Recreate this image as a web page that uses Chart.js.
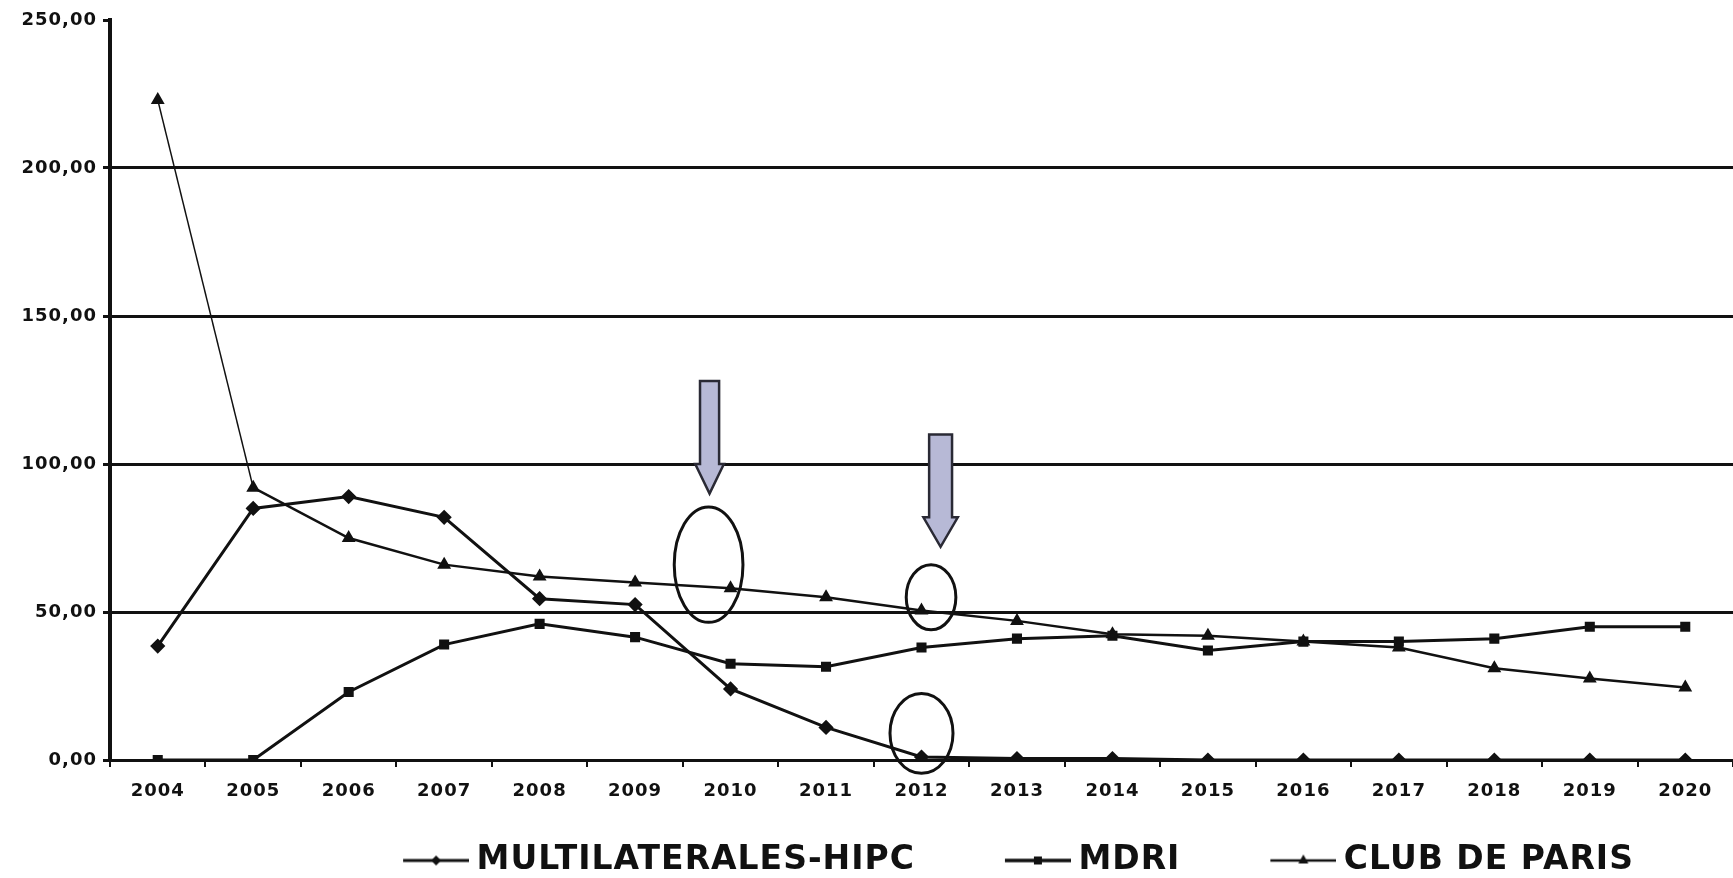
<!DOCTYPE html>
<html>
<head>
<meta charset="utf-8">
<title>Servicio de la deuda</title>
<script src="https://cdn.jsdelivr.net/npm/chart.js@4.4.1/dist/chart.umd.min.js"></script>
<style>
    html, body { margin: 0; padding: 0; background: #fff; }
    #contenedor { width: 1733px; height: 878px; position: relative; }
</style>
</head>
<body>
<div id="contenedor"><canvas id="grafico-deuda"></canvas></div>
<script>
// datos
var anios = ['2004','2005','2006','2007','2008','2009','2010','2011','2012','2013','2014','2015','2016','2017','2018','2019','2020'];
var hipc = [38.5, 85, 89, 82, 54.5, 52.5, 24, 11, 1, 0.5, 0.5, 0, 0, 0, 0, 0, 0];
var mdri = [0, 0, 23, 39, 46, 41.5, 32.5, 31.5, 38, 41, 42, 37, 40, 40, 41, 45, 45];
var clubParis = [223, 92, 75, 66, 62, 60, 58, 55, 50.5, 47, 42.5, 42, 40, 38, 31, 27.5, 24.5];
var nombres = ['MULTILATERALES-HIPC', 'MDRI', 'CLUB DE PARIS'];
var yTicks = [0, 50, 100, 150, 200, 250];

// marcas a mano sobre el grafico (x = indice de anio, y = valor)
var circulos = [
    {x: 5.77, y: 66, rx: 0.36, ry: 19.5},
    {x: 8.1, y: 55, rx: 0.26, ry: 11},
    {x: 8.0, y: 9, rx: 0.33, ry: 13.5}
];
var flechas = [
    {x: 5.78, arriba: 128, cabeza: 100, punta: 90, ancho: 0.1, anchoCabeza: 0.15},
    {x: 8.2, arriba: 110, cabeza: 82, punta: 72, ancho: 0.12, anchoCabeza: 0.18}
];

Chart.defaults.font.family = "'DejaVu Sans', sans-serif";
Chart.defaults.font.weight = 'bold';
Chart.defaults.color = '#111';

function icono(tipo, grosor){
    var c = document.createElement('canvas');
    c.width = 155; c.height = 18;
    var g = c.getContext('2d');
    g.strokeStyle = '#111';
    g.fillStyle = '#111';
    g.lineWidth = grosor;
    g.beginPath(); g.moveTo(89, 9); g.lineTo(155, 9); g.stroke();
    var cx = 122, cy = 9;
    g.beginPath();
    if (tipo == 'rombo'){
        g.moveTo(cx, cy - 5); g.lineTo(cx + 5, cy); g.lineTo(cx, cy + 5); g.lineTo(cx - 5, cy);
    } else if (tipo == 'cuadro'){
        g.rect(cx - 4, cy - 4, 8, 8);
    } else {
        g.moveTo(cx, cy - 6); g.lineTo(cx + 5, cy + 3); g.lineTo(cx - 5, cy + 3);
    }
    g.closePath(); g.fill();
    return c;
}
var iconos = [icono('rombo', 3), icono('cuadro', 3.5), icono('triangulo', 2.5)];

var ajustes = {
    id: 'ajustes',
    beforeUpdate: function(chart){ chart.ctx.letterSpacing = '1px'; },
    beforeDraw: function(chart){ chart.ctx.letterSpacing = '1px'; },
    afterLayout: function(chart){
        var l = chart.legend;
        l.left += 112; l.right += 112;
        l.top += 9; l.bottom += 9;
    },
    afterDatasetsDraw: function(chart){
        var ctx = chart.ctx, x = chart.scales.x, y = chart.scales.y;
        ctx.save();
        ctx.strokeStyle = '#111';
        ctx.lineWidth = 3;
        circulos.forEach(function(c){
            var cx = x.getPixelForValue(c.x), cy = y.getPixelForValue(c.y);
            var rx = x.getPixelForValue(c.x + c.rx) - cx;
            var ry = y.getPixelForValue(c.y - c.ry) - cy;
            ctx.beginPath();
            ctx.ellipse(cx, cy, rx, ry, 0, 0, Math.PI * 2);
            ctx.stroke();
        });
        ctx.fillStyle = '#b7b9d6';
        ctx.strokeStyle = '#2a2a35';
        ctx.lineWidth = 2.5;
        flechas.forEach(function(f){
            var xm = x.getPixelForValue(f.x);
            var a = x.getPixelForValue(f.x + f.ancho) - xm;
            var b = x.getPixelForValue(f.x + f.anchoCabeza) - xm;
            var y1 = y.getPixelForValue(f.arriba), y2 = y.getPixelForValue(f.cabeza), y3 = y.getPixelForValue(f.punta);
            ctx.beginPath();
            ctx.moveTo(xm - a, y1); ctx.lineTo(xm + a, y1); ctx.lineTo(xm + a, y2);
            ctx.lineTo(xm + b, y2); ctx.lineTo(xm, y3); ctx.lineTo(xm - b, y2);
            ctx.lineTo(xm - a, y2); ctx.closePath();
            ctx.fill(); ctx.stroke();
        });
        ctx.restore();
    }
};

var ctxDeuda = document.getElementById('grafico-deuda').getContext('2d');
var graficoDeuda = new Chart(ctxDeuda, {
    type: 'line',
    data: {
        labels: anios,
        datasets: [
            {label: nombres[0], data: hipc, borderColor: '#111', backgroundColor: '#111', borderWidth: 3, pointStyle: 'rectRot', pointRadius: 5.5},
            {label: nombres[1], data: mdri, borderColor: '#111', backgroundColor: '#111', borderWidth: 3, pointStyle: 'rect', pointRadius: 5},
            {label: nombres[2], data: clubParis, borderColor: '#111', backgroundColor: '#111', borderWidth: 2.5, pointStyle: 'triangle', pointRadius: 5.5,
             segment: {borderWidth: function(s){ return s.p0DataIndex === 0 ? 1.5 : 2.5; }}}
        ]
    },
    plugins: [ajustes],
    options: {
        responsive: true,
        maintainAspectRatio: false,
        animation: false,
        layout: {autoPadding: false, padding: {top: 20, right: 0, bottom: 0, left: 0}},
        plugins: {
            tooltip: {enabled: false},
            legend: {
                position: 'bottom',
                labels: {
                    usePointStyle: true,
                    pointStyleWidth: 137,
                    padding: 10,
                    color: '#111',
                    font: {size: 33, weight: 'bold'},
                    generateLabels: function(chart){
                        var items = Chart.defaults.plugins.legend.labels.generateLabels(chart);
                        items.forEach(function(it, i){ it.pointStyle = iconos[i]; it.fontColor = '#111'; });
                        return items;
                    }
                }
            }
        },
        scales: {
            x: {
                offset: true,
                grid: {offset: true, drawOnChartArea: false, drawTicks: true, tickLength: 7, color: '#111', lineWidth: 2},
                border: {display: true, color: '#111', width: 3},
                ticks: {font: {size: 18, weight: 'bold'}, color: '#111', padding: 14, maxRotation: 0, autoSkip: false},
                afterFit: function(s){ s.height = 65; s.paddingLeft = 0; s.paddingRight = 0; }
            },
            y: {
                min: 0,
                max: 250,
                afterBuildTicks: function(s){ s.ticks = yTicks.map(function(v){ return {value: v}; }); },
                grid: {
                    color: function(c){ return (c.tick && (c.tick.value === 0 || c.tick.value === 250)) ? 'rgba(0,0,0,0)' : '#111'; },
                    lineWidth: 3,
                    tickColor: '#111',
                    tickLength: 7,
                    tickWidth: 3
                },
                border: {color: '#111', width: 4},
                ticks: {
                    font: {size: 18, weight: 'bold'},
                    color: '#111',
                    padding: 6,
                    callback: function(v){ return v.toFixed(2).replace('.', ','); }
                },
                afterFit: function(s){ s.width = 110; }
            }
        }
    }
});
</script>
</body>
</html>
